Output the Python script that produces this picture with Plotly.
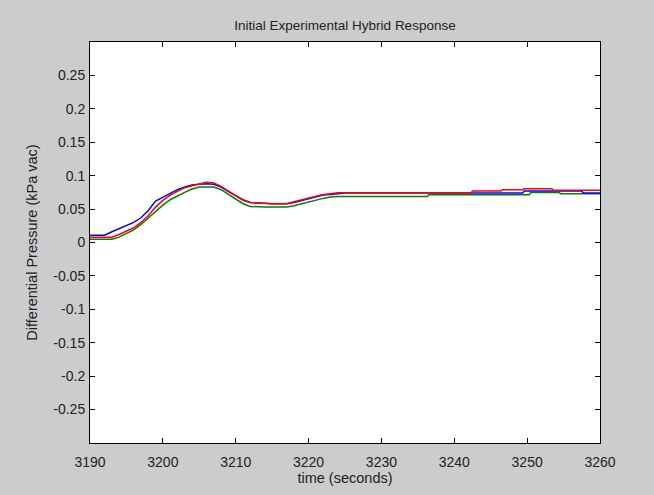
import plotly.graph_objects as go

# Differential pressure traces (kPa vac) against time (s)
t_blue = [3190, 3192, 3193, 3194, 3195, 3196, 3197, 3198, 3199, 3200, 3201, 3202,
          3203, 3204, 3205, 3206, 3207, 3208, 3209, 3210, 3211, 3212, 3213, 3214,
          3215, 3216, 3217, 3218, 3219, 3220, 3221, 3222, 3223, 3224, 3225, 3235,
          3249.4, 3249.6, 3257.5, 3257.7, 3260]
p_blue = [0.011, 0.011, 0.016, 0.021, 0.025, 0.030, 0.037, 0.048, 0.062, 0.068, 0.074, 0.079,
          0.083, 0.086, 0.087, 0.088, 0.087, 0.083, 0.076, 0.070, 0.064, 0.060, 0.059, 0.058,
          0.058, 0.058, 0.058, 0.060, 0.063, 0.066, 0.069, 0.071, 0.072, 0.073, 0.074, 0.074,
          0.074, 0.077, 0.077, 0.074, 0.074]

t_red = [3190, 3193, 3194, 3195, 3196, 3197, 3198, 3199, 3200, 3201, 3202, 3203,
         3204, 3205, 3206, 3207, 3208, 3209, 3210, 3211, 3212, 3213, 3214, 3215,
         3216, 3217, 3218, 3219, 3220, 3221, 3222, 3223, 3224, 3235, 3242.3, 3242.5,
         3246.4, 3246.6, 3249.4, 3249.6, 3253.4, 3253.6, 3260]
p_red = [0.008, 0.008, 0.012, 0.017, 0.022, 0.030, 0.040, 0.053, 0.063, 0.071, 0.077, 0.082,
         0.085, 0.088, 0.090, 0.089, 0.084, 0.077, 0.070, 0.063, 0.060, 0.059, 0.058, 0.058,
         0.058, 0.058, 0.061, 0.064, 0.067, 0.070, 0.072, 0.073, 0.0745, 0.0745, 0.0745, 0.077,
         0.077, 0.079, 0.079, 0.0805, 0.0805, 0.078, 0.078]

t_green = [3190, 3193, 3194, 3195, 3196, 3197, 3198, 3199, 3200, 3201, 3202, 3203,
           3204, 3205, 3206, 3207, 3208, 3209, 3210, 3211, 3212, 3213, 3214, 3215,
           3216, 3217, 3218, 3219, 3220, 3221, 3222, 3223, 3224, 3230, 3236.3, 3236.5,
           3250.3, 3250.5, 3254.4, 3254.6, 3260]
p_green = [0.005, 0.005, 0.008, 0.013, 0.019, 0.027, 0.037, 0.047, 0.056, 0.064, 0.070, 0.075,
           0.080, 0.083, 0.083, 0.083, 0.079, 0.072, 0.064, 0.058, 0.054, 0.053, 0.053, 0.053,
           0.053, 0.053, 0.055, 0.058, 0.061, 0.064, 0.066, 0.068, 0.069, 0.069, 0.069, 0.0715,
           0.0715, 0.075, 0.075, 0.073, 0.073]

x_ticks = [3190, 3200, 3210, 3220, 3230, 3240, 3250, 3260]
y_ticks = [-0.25, -0.2, -0.15, -0.1, -0.05, 0, 0.05, 0.1, 0.15, 0.2, 0.25]
y_tick_labels = ["-0.25", "-0.2", "-0.15", "-0.1", "-0.05", "0", "0.05", "0.1", "0.15", "0.2", "0.25"]

FONT = "Liberation Sans, Arial, sans-serif"

fig = go.Figure()
fig.add_trace(go.Scatter(x=t_green, y=p_green, mode="lines",
                         line=dict(color="#008000", width=1.5), showlegend=False))
fig.add_trace(go.Scatter(x=t_blue, y=p_blue, mode="lines",
                         line=dict(color="#0000ff", width=1.5), showlegend=False))
fig.add_trace(go.Scatter(x=t_red, y=p_red, mode="lines",
                         line=dict(color="#ff0000", width=1.5), showlegend=False))

axis_common = dict(
    showgrid=False, zeroline=False, showline=True, linecolor="black", linewidth=1,
    mirror="ticks", ticks="inside", ticklen=5, tickcolor="black", tickwidth=1,
    tickfont=dict(family=FONT, size=14, color="#222222"),
)

fig.update_layout(
    width=654, height=495,
    margin=dict(l=90, r=54, t=42, b=52),
    paper_bgcolor="#cccccc", plot_bgcolor="white",
    font=dict(family=FONT, size=14, color="black"),
    title=dict(text="Initial Experimental Hybrid Response", x=(90 + 600) / 2 / 654,
               xanchor="center", y=1 - 25 / 495, yanchor="middle",
               font=dict(family=FONT, size=13.5, color="#222222")),
    xaxis=dict(range=[3190, 3260], tickvals=x_ticks, ticktext=[str(v) for v in x_ticks],
               ticklabelstandoff=6,
               title=dict(text="time (seconds)", standoff=2,
                          font=dict(family=FONT, size=14.5, color="#222222")),
               **axis_common),
    yaxis=dict(range=[-0.3, 0.3], tickvals=y_ticks, ticktext=y_tick_labels,
               ticklabelstandoff=1,
               title=dict(text="Differential Pressure (kPa vac)", standoff=12,
                          font=dict(family=FONT, size=14.5, color="#222222")),
               **axis_common),
)

fig.write_html("out.html")
